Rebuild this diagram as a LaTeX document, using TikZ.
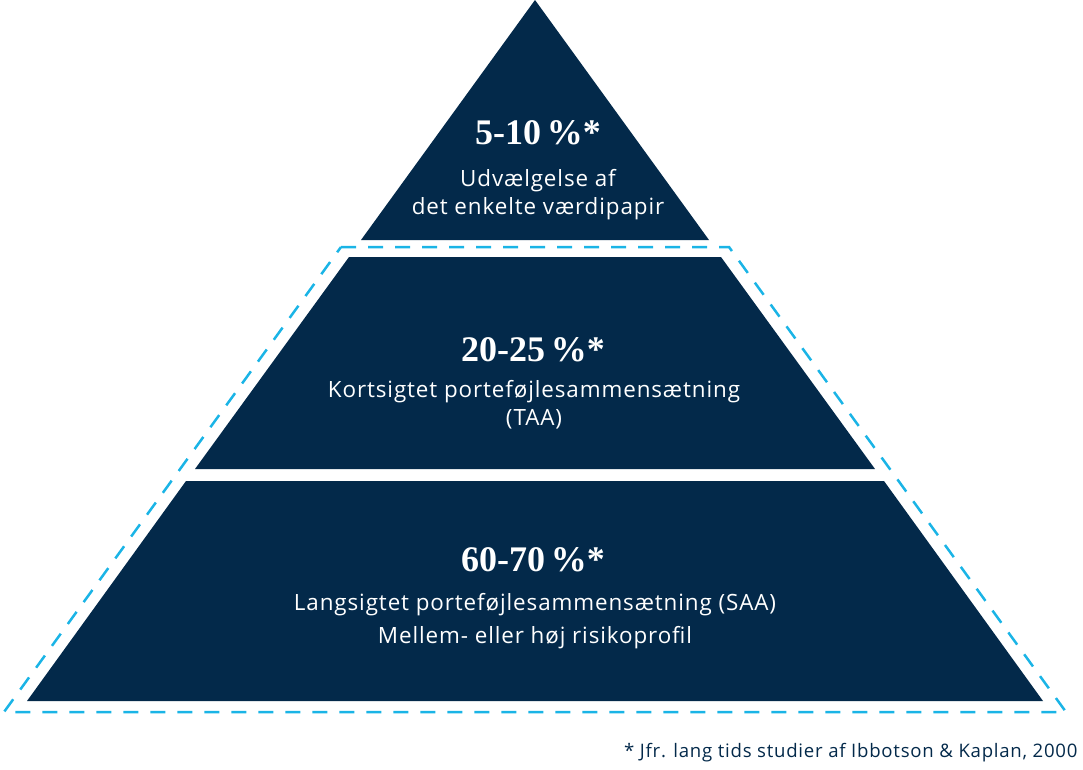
\documentclass[tikz,border=0pt]{standalone}
\usepackage{fontspec}
\setmainfont{Open Sans}[LetterSpace=4]
\newfontfamily\headfont{Liberation Serif}
\usepackage{tikz}
\usetikzlibrary{calc}
\definecolor{navy}{HTML}{03294A}
\definecolor{skyline}{HTML}{1AB4E6}
\tikzset
{
  layer/.style={fill=navy,draw=none},
  outline/.style={draw=skyline,line width=2.5pt,dash pattern=on 15pt off 12pt},
  share/.style={text=white,font=\headfont\bfseries\fontsize{36}{40}\selectfont,anchor=center},
  caption/.style={text=white,font=\fontsize{22.4}{28}\selectfont,align=center,anchor=center},
  note/.style={text=navy,font=\fontsize{18.6}{22}\selectfont,anchor=east}
}

\begin{document}
\begin{tikzpicture}[x=1pt,y=-1pt]
        \useasboundingbox (0,0) rectangle (1083,769);

        % Dashed frame round the two lower layers
        \draw[outline] (341,247) -- (729,247) -- (1066,712) -- (4,712) -- cycle;

        % Layers of the pyramid
        \fill[layer] (535,0) -- (709,240) -- (361,240) -- cycle;
        \fill[layer] (349,257) -- (721,257) -- (875,469) -- (195,469) -- cycle;
        \fill[layer] (186,481) -- (884,481) -- (1043,701) -- (27,701) -- cycle;

        % Top layer
        \node[share] (topshare) at (538,133) {5-10\,\%*};
        \node[caption] (toptext) at (538,195) {Udvælgelse af\\det enkelte værdipapir};

        % Middle layer
        \node[share] (midshare) at (533,350) {20-25\,\%*};
        \node[caption] (midtext) at (534,405) {Kortsigtet porteføjlesammensætning\\(TAA)};

        % Bottom layer
        \node[share] (lowshare) at (533,560) {60-70\,\%*};
        \node[caption] (lowtext) at (535,621) {Langsigtet porteføjlesammensætning (SAA)\\[5pt]Mellem- eller høj risikoprofil};

        % Footnote
        \node[note] (source) at (1081,753) {* Jfr. lang tids studier af Ibbotson \& Kaplan, 2000};
    \end{tikzpicture}
\end{document}
